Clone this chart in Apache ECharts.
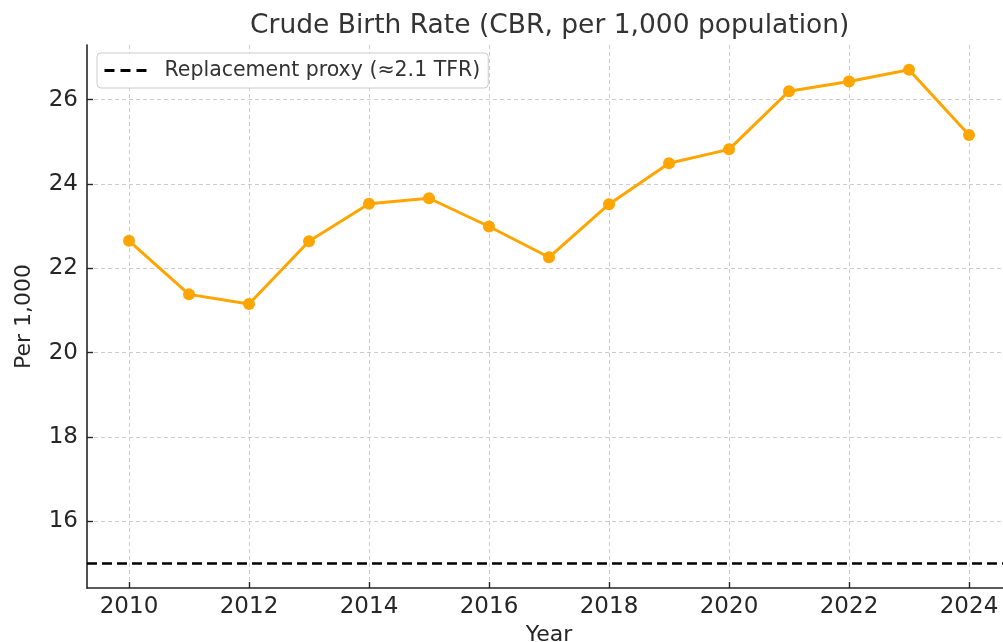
<!DOCTYPE html>
<html>
<head>
<meta charset="utf-8">
<script src="https://cdn.jsdelivr.net/npm/echarts@6/dist/echarts.min.js"></script>
<style>
  html, body { margin: 0; padding: 0; background: #fff; }
  #chart { width: 1003px; height: 642px; }
</style>
</head>
<body>
<div id="chart"></div>
<script>
// data
const years = [2010, 2011, 2012, 2013, 2014, 2015, 2016, 2017, 2018, 2019, 2020, 2021, 2022, 2023, 2024];
const cbr = [22.65, 21.38, 21.15, 22.64, 23.53, 23.66, 22.99, 22.26, 23.52, 24.49, 24.82, 26.2, 26.43, 26.71, 25.16];
const replacementLevel = 15;
const xTicks = [2010, 2012, 2014, 2016, 2018, 2020, 2022, 2024];
const yTicks = [16, 18, 20, 22, 24, 26];

const seriesName = "Replacement proxy (≈2.1 TFR)";
const font = "DejaVu Sans";

// matplotlib-like 5% margins
const yLo = Math.min(replacementLevel, ...cbr);
const yHi = Math.max(replacementLevel, ...cbr);
const yPad = (yHi - yLo) * 0.05;
const xPad = (years[years.length - 1] - years[0]) * 0.05;

const chart = echarts.init(document.getElementById("chart"), null, { renderer: "canvas" });

chart.setOption({
    animation: false,
    title: {
        text: "Crude Birth Rate (CBR, per 1,000 population)",
        left: 245,
        top: 8,
        textStyle: { fontFamily: font, fontSize: 26.5, fontWeight: "normal", color: "#333" },
    },
    legend: {
        left: 97,
        top: 53,
        data: [seriesName],
        itemWidth: 43,
        itemHeight: 14,
        padding: [7, 8, 7, 6],
        borderColor: "#cccccc",
        borderWidth: 1,
        borderRadius: 4,
        backgroundColor: "rgba(255,255,255,0.85)",
        itemStyle: { opacity: 0 },
        lineStyle: { width: 3, type: [10, 6] },
        textStyle: { fontFamily: font, fontSize: 20.5, color: "#333", padding: [0, 0, 0, 12] },
    },
    grid: { left: 87, top: 45, right: -8, bottom: 54, outerBoundsMode: "none", containLabel: false },
    xAxis: {
        type: "value",
        min: years[0] - xPad,
        max: years[years.length - 1] + xPad,
        name: "Year",
        nameLocation: "middle",
        nameGap: 36,
        nameTextStyle: { fontFamily: font, fontSize: 22, color: "#262626" },
        axisLine: { lineStyle: { color: "#262626", width: 1.6 } },
        axisTick: { inside: true, length: 6, customValues: xTicks, lineStyle: { color: "#262626", width: 1.4 } },
        axisLabel: {
            customValues: xTicks,
            formatter: (v) => String(v),
            fontFamily: font, fontSize: 23, color: "#262626", margin: 8,
        },
        splitLine: { show: true, lineStyle: { color: "#cccccc", type: [4, 3], width: 1 } },
    },
    yAxis: {
        type: "value",
        min: yLo - yPad,
        max: yHi + yPad,
        name: "Per 1,000",
        nameLocation: "middle",
        nameGap: 52,
        nameTextStyle: { fontFamily: font, fontSize: 22, color: "#262626" },
        axisLine: { show: true, lineStyle: { color: "#262626", width: 1.6 } },
        axisTick: { show: true, inside: true, length: 6, customValues: yTicks, lineStyle: { color: "#262626", width: 1.4 } },
        axisLabel: {
            customValues: yTicks,
            formatter: (v) => String(v),
            fontFamily: font, fontSize: 23, color: "#262626", margin: 9,
        },
        splitLine: { show: true, lineStyle: { color: "#cccccc", type: [4, 3], width: 1 } },
    },
    series: [
        {
            name: "CBR",
            type: "line",
            data: years.map((y, i) => [y, cbr[i]]),
            symbol: "circle",
            symbolSize: 12,
            color: "#FFA500",
            lineStyle: { color: "#FFA500", width: 3 },
            itemStyle: { color: "#FFA500" },
            z: 3,
        },
        {
            name: seriesName,
            type: "line",
            data: [],
            symbol: "none",
            color: "#000",
            lineStyle: { color: "#000", width: 2.6, type: [10, 6] },
            markLine: {
                silent: true,
                symbol: "none",
                label: { show: false },
                lineStyle: { color: "#000", width: 2.6, type: [10, 5] },
                data: [{ yAxis: replacementLevel }],
            },
        },
    ],
});
</script>
</body>
</html>
